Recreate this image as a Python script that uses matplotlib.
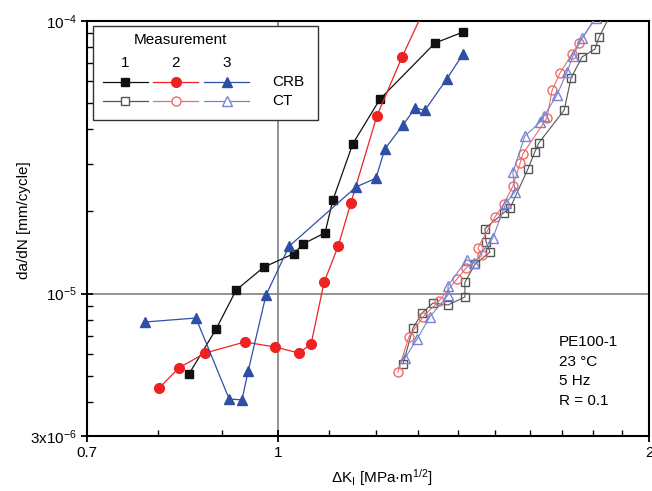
import matplotlib
matplotlib.use('Agg')
import matplotlib.pyplot as plt
from matplotlib.patches import Rectangle
from matplotlib.lines import Line2D
from matplotlib.ticker import FixedLocator, NullFormatter

plt.rcParams['font.family'] = ['Liberation Sans', 'DejaVu Sans']
plt.rcParams['mathtext.fontset'] = 'custom'
plt.rcParams['mathtext.rm'] = 'Liberation Sans'
plt.rcParams['mathtext.it'] = 'Liberation Sans'
plt.rcParams['mathtext.default'] = 'regular'

# CRB, Messung 1-3 (gefüllte Symbole)
crb1_dk = [0.847, 0.891, 0.925, 0.974, 1.030, 1.048, 1.092, 1.108, 1.150, 1.210, 1.341, 1.413]
crb1_da = [5.07e-6, 7.41e-6, 1.03e-5, 1.25e-5, 1.40e-5, 1.52e-5, 1.67e-5, 2.20e-5, 3.54e-5, 5.17e-5, 8.30e-5, 9.11e-5]

crb2_dk = [0.801, 0.831, 0.873, 0.940, 0.995, 1.040, 1.064, 1.090, 1.119, 1.146, 1.203, 1.261, 1.32]
crb2_da = [4.50e-6, 5.33e-6, 6.05e-6, 6.64e-6, 6.36e-6, 6.05e-6, 6.53e-6, 1.10e-5, 1.49e-5, 2.15e-5, 4.48e-5, 7.38e-5, 1.15e-4]

crb3_dk = [0.780, 0.858, 0.913, 0.935, 0.946, 0.978, 1.021, 1.157, 1.201, 1.221, 1.263, 1.292, 1.316, 1.371, 1.413]
crb3_da = [7.86e-6, 8.13e-6, 4.10e-6, 4.07e-6, 5.20e-6, 9.87e-6, 1.49e-5, 2.46e-5, 2.65e-5, 3.39e-5, 4.15e-5, 4.79e-5, 4.71e-5, 6.13e-5, 7.57e-5]

# CT, Messung 1-3 (offene Symbole)
ct1_dk = [1.263, 1.287, 1.309, 1.336, 1.374, 1.418, 1.418, 1.445, 1.486, 1.475, 1.472, 1.525, 1.543,
          1.595, 1.616, 1.628, 1.707, 1.729, 1.765, 1.808, 1.822, 1.87]
ct1_da = [5.51e-6, 7.47e-6, 8.48e-6, 9.23e-6, 9.08e-6, 9.71e-6, 1.10e-5, 1.28e-5, 1.42e-5, 1.55e-5, 1.73e-5, 1.98e-5, 2.06e-5,
          2.86e-5, 3.31e-5, 3.57e-5, 4.71e-5, 6.18e-5, 7.38e-5, 7.89e-5, 8.74e-5, 1.10e-4]

ct2_dk = [1.251, 1.277, 1.311, 1.351, 1.397, 1.421, 1.464, 1.453, 1.500, 1.525, 1.551, 1.572, 1.580,
          1.653, 1.669, 1.694, 1.732, 1.755, 1.83]
ct2_da = [5.15e-6, 6.93e-6, 8.20e-6, 9.39e-6, 1.13e-5, 1.24e-5, 1.38e-5, 1.47e-5, 1.91e-5, 2.13e-5, 2.48e-5, 3.01e-5, 3.25e-5,
          4.41e-5, 5.58e-5, 6.45e-5, 7.57e-5, 8.30e-5, 1.10e-4]

ct3_dk = [1.268, 1.297, 1.328, 1.374, 1.374, 1.423, 1.442, 1.494, 1.531, 1.557, 1.551, 1.586, 1.632,
          1.644, 1.684, 1.716, 1.735, 1.765, 1.81]
ct3_da = [5.80e-6, 6.81e-6, 8.20e-6, 9.87e-6, 1.07e-5, 1.33e-5, 1.29e-5, 1.60e-5, 2.15e-5, 2.36e-5, 2.79e-5, 3.78e-5, 4.26e-5,
          4.48e-5, 5.35e-5, 6.50e-5, 7.44e-5, 8.66e-5, 1.03e-4]

info_lines = ['PE100-1', '23 °C', '5 Hz', 'R = 0.1']

black = '#111111'
red = '#ee2222'
blue = '#2f4ea6'
ct_black = '#555555'
ct_red = '#f06a6a'
ct_blue = '#7385d2'

fig = plt.figure(figsize=(6.52, 4.91), dpi=100)
ax = fig.add_axes([0.1334, 0.1120, 0.8620, 0.8452])
ax.set_xscale('log')
ax.set_yscale('log')
ax.set_xlim(0.7, 2)
ax.set_ylim(3e-6, 1e-4)

# Gitterlinien nur bei 1 und 1e-5
ax.axvline(1, color='#808080', lw=1.2, zorder=1)
ax.axhline(1e-5, color='#808080', lw=1.2, zorder=1)

# CRB
ax.plot(crb1_dk, crb1_da, '-s', color=black, lw=0.9, ms=5.5, mfc=black, mec=black, zorder=3)
ax.plot(crb2_dk, crb2_da, '-o', color=red, lw=0.9, ms=7, mfc=red, mec=red, zorder=3)
ax.plot(crb3_dk, crb3_da, '-^', color=blue, lw=0.9, ms=7, mfc=blue, mec=blue, zorder=3)

# CT
ax.plot(ct1_dk, ct1_da, '-s', color=ct_black, lw=0.8, ms=6, mfc='none', mec=ct_black, mew=1.0, zorder=3)
ax.plot(ct2_dk, ct2_da, '-o', color=ct_red, lw=0.8, ms=6.5, mfc='none', mec=ct_red, mew=1.0, zorder=3)
ax.plot(ct3_dk, ct3_da, '-^', color=ct_blue, lw=0.8, ms=7, mfc='none', mec=ct_blue, mew=1.0, zorder=3)

# Achsen
for s in ax.spines.values():
    s.set_linewidth(1.5)
ax.xaxis.set_major_locator(FixedLocator([0.7, 1, 2]))
ax.xaxis.set_minor_locator(FixedLocator([0.8, 0.9, 1.1, 1.2, 1.3, 1.4, 1.5, 1.6, 1.7, 1.8, 1.9]))
ax.set_xticklabels(['0.7', '1', '2'])
ax.xaxis.set_minor_formatter(NullFormatter())
ax.yaxis.set_major_locator(FixedLocator([3e-6, 1e-5, 1e-4]))
ax.yaxis.set_minor_locator(FixedLocator([4e-6, 5e-6, 6e-6, 7e-6, 8e-6, 9e-6,
                                         2e-5, 3e-5, 4e-5, 5e-5, 6e-5, 7e-5, 8e-5, 9e-5]))
ax.set_yticklabels(['3x10$^{-6}$', '10$^{-5}$', '10$^{-4}$'])
ax.yaxis.set_minor_formatter(NullFormatter())
ax.tick_params(which='major', direction='inout', length=8, width=1.3, labelsize=11, top=False, right=False)
ax.tick_params(which='minor', direction='in', length=4, width=1.0, top=False, right=False)
ax.tick_params(axis='x', which='major', pad=3)

ax.set_xlabel('ΔK$_I$ [MPa·m$^{1/2}$]', fontsize=11)
ax.xaxis.set_label_coords(0.525, -0.075)
ax.set_ylabel('da/dN [mm/cycle]', fontsize=11)
ax.yaxis.set_label_coords(-0.1, 0.52)

# Legende von Hand
ax.add_patch(Rectangle((0.011, 0.761), 0.40, 0.227, transform=ax.transAxes,
                       facecolor='white', edgecolor='#333333', lw=1.0, zorder=5))
ax.text(0.167, 0.954, 'Measurement', transform=ax.transAxes, ha='center', va='center', fontsize=11, zorder=6)
leg_x = [0.068, 0.158, 0.249]
for i, lx in enumerate(leg_x):
    ax.text(lx, 0.899, str(i + 1), transform=ax.transAxes, ha='center', va='center', fontsize=11, zorder=6)
crb_sty = [('s', black, 5.5), ('o', red, 7), ('^', blue, 7)]
ct_sty = [('s', ct_black, 6), ('o', ct_red, 6.5), ('^', ct_blue, 7)]
for lx, (m, c, ms) in zip(leg_x, crb_sty):
    ax.add_line(Line2D([lx - 0.04, lx + 0.04], [0.853, 0.853], transform=ax.transAxes, color=c, lw=0.9, zorder=6))
    ax.add_line(Line2D([lx], [0.853], transform=ax.transAxes, marker=m, ms=ms, color=c, mfc=c, mec=c, zorder=7))
for lx, (m, c, ms) in zip(leg_x, ct_sty):
    ax.add_line(Line2D([lx - 0.04, lx + 0.04], [0.807, 0.807], transform=ax.transAxes, color=c, lw=0.9, zorder=6))
    ax.add_line(Line2D([lx], [0.807], transform=ax.transAxes, marker=m, ms=ms, color=c, mfc='white', mec=c, mew=1.0, zorder=7))
ax.text(0.329, 0.853, 'CRB', transform=ax.transAxes, ha='left', va='center', fontsize=11, zorder=6)
ax.text(0.329, 0.807, 'CT', transform=ax.transAxes, ha='left', va='center', fontsize=11, zorder=6)

# Versuchsbedingungen
for k, t in enumerate(info_lines):
    ax.text(0.84, 0.226 - k * 0.047, t, transform=ax.transAxes, ha='left', va='center', fontsize=11)

plt.savefig('out.png', dpi=100)
